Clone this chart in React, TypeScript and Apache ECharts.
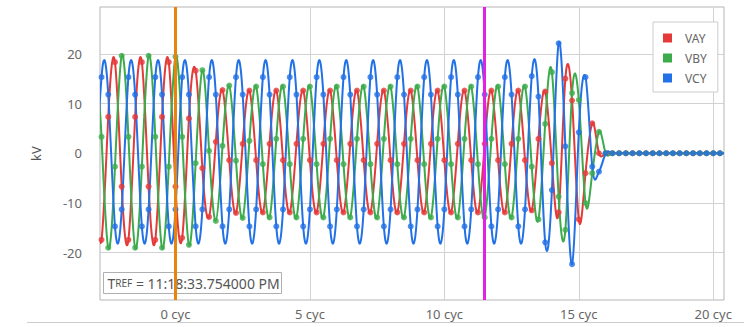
import React, { useEffect, useRef } from "react";
import * as echarts from "echarts";

// Sampling grid: 4 samples per cycle, first sample at -3 cyc
const T_START = -3.0;
const T_STEP = 0.25;

// kV samples (t = -3.0, -2.75, ... 20.5 cyc)
const VAY = [
  -6.7, -17.4, 7.3, 18.3, -6.7, -17.4, 7.3, 18.3, -6.7, -17.4, 7.3, 18.3, -6.7,
  -17.0, 7.0, 16.6, -3.0, -12.8, 2.3, 12.7, -1.4, -12.0, 1.9, 12.6, -1.4,
  -11.9, 1.9, 12.6, -1.4, -11.9, 1.9, 12.6, -1.4, -11.9, 1.9, 12.6, -1.4, -11.9, 1.9, 12.6, -1.4,
  -11.9, 1.9, 12.6, -1.4, -11.9, 1.9, 12.6, -1.4, -11.9, 1.9, 12.6, -1.4, -11.9, 1.9, 12.6, -1.4,
  -11.9, 1.9, 12.6, -1.4, -11.9, 1.9, 12.6, -1.4,
  -11.5, 2.9, 12.4, -2.0, -11.9, 15.0, 10.6, -13.3, -4.0, 6.0, 0.0,
  0, 0, 0, 0, 0, 0, 0, 0, 0, 0, 0, 0, 0, 0, 0, 0, 0, 0, 0,
];

const VBY = [
  19.6, 3.3, -19.0, -2.7, 19.6, 3.3, -19.0, -2.7, 19.6, 3.3, -19.0, -2.7, 19.4,
  3.3, -18.4, -2.0, 16.7, 0.5, -13.6, 1.5, 13.6, -1.5, -13.0, 2.5, 13.4,
  -2.2, -12.9, 2.9, 13.4, -2.2, -12.9, 2.9, 13.4, -2.2, -12.9, 2.9, 13.4, -2.2, -12.9, 2.9, 13.4,
  -2.2, -12.9, 2.9, 13.4, -2.2, -12.9, 2.9, 13.4, -2.2, -12.9, 2.9, 13.4, -2.2, -12.9, 2.9, 13.4,
  -2.2, -12.9, 2.9, 13.4, -2.2, -12.9, 2.9, 13.4,
  -2.7, -13.3, 5.9, 16.3, -8.7, -15.4, 12.1, 10.7, -10.0, -4.0, 4.3,
  0, 0, 0, 0, 0, 0, 0, 0, 0, 0, 0, 0, 0, 0, 0, 0, 0, 0, 0,
];

const VCY = [
  -11.3,
  15.3, 11.8, -14.7, -11.3, 15.3, 11.8, -14.7, -11.3, 15.3, 11.8, -14.7, -11.3,
  15.3, 11.8, -14.7, -11.3, 15.3, 11.8, -14.7, -11.3, 15.3, 11.8, -14.7, -11.3,
  15.3, 11.8, -14.7, -11.3, 15.3, 11.8, -14.7, -11.3, 15.3, 11.8, -14.7, -11.3,
  15.3, 11.8, -14.7, -11.3, 15.3, 11.8, -14.7, -11.3, 15.3, 11.8, -14.7, -11.3,
  15.3, 11.8, -14.7, -11.3, 15.3, 11.8, -14.7, -11.3, 15.3, 11.8, -14.7, -11.3,
  15.3, 11.8, -14.7, -11.3,
  15.5, 11.4, -17.9, -7.4, 22.1, 1.4, -22.3, 4.2, 15.3, -2.7, -3.7,
  0, 0, 0, 0, 0, 0, 0, 0, 0, 0, 0, 0, 0, 0, 0, 0, 0, 0, 0,
];

const SERIES_NAMES = ["VAY", "VBY", "VCY"];
const SERIES_COLORS = ["#e53a3a", "#3cab4c", "#2271e6"];
const X_TICKS = [0, 5, 10, 15, 20];
const Y_TICKS = [-20, -10, 0, 10, 20];
const X_MIN = -2.807;
const X_MAX = 20.4;
const Y_MIN = -29.5;
const Y_MAX = 29.4;
const CURSOR_A = 0;
const CURSOR_B = 11.5;
const TREF_TIME = "11:18:33.754000 PM";

const FONT = "'Noto Sans', 'Open Sans', sans-serif";

function toPoints(values: number[]) {
  return values.map((v, i) => [T_START + i * T_STEP, v]);
}

function makeRenderer(values: number[], color: string) {
  const KX = 1 / 6;
  const KY = 1.5 / 6;
  return (params: any, api: any) => {
    const i = params.dataIndex;
    const n = values.length;
    if (i >= n - 1) return null;
    const pt = (k: number) => {
      const kk = Math.max(0, Math.min(n - 1, k));
      return api.coord([T_START + kk * T_STEP, values[kk]]);
    };
    const p0 = pt(i - 1);
    const p1 = pt(i);
    const p2 = pt(i + 1);
    const p3 = pt(i + 2);
    return {
      type: "bezierCurve",
      shape: {
        x1: p1[0],
        y1: p1[1],
        x2: p2[0],
        y2: p2[1],
        cpx1: p1[0] + (p2[0] - p0[0]) * KX,
        cpy1: p1[1] + (p2[1] - p0[1]) * KY,
        cpx2: p2[0] - (p3[0] - p1[0]) * KX,
        cpy2: p2[1] - (p3[1] - p1[1]) * KY,
      },
      style: { stroke: color, lineWidth: 2, fill: "none" },
      silent: true,
    };
  };
}

export default function App() {
  const ref = useRef<HTMLDivElement>(null);

  useEffect(() => {
    if (!ref.current) return;
    const chart = echarts.init(ref.current, null, { renderer: "svg" });
    const allValues = [VAY, VBY, VCY];
    const series: any[] = [];
    allValues.forEach((vals, idx) => {
      const color = SERIES_COLORS[idx];
      const pts = toPoints(vals);
      series.push({
        type: "custom",
        name: SERIES_NAMES[idx],
        data: pts,
        encode: { x: 0, y: 1 },
        renderItem: makeRenderer(vals, color),
        itemStyle: { color },
        clip: true,
        silent: true,
      });
      const sc: any = {
        type: "scatter",
        name: SERIES_NAMES[idx],
        data: pts,
        symbol: "circle",
        symbolSize: 6,
        itemStyle: { color },
        clip: true,
        silent: true,
      };
      if (idx === 2) {
        sc.markLine = {
          silent: true,
          symbol: ["none", "none"],
          label: { show: false },
          animation: false,
          data: [
            { xAxis: CURSOR_A, lineStyle: { color: "#e8840e", width: 3, type: "solid" } },
            { xAxis: CURSOR_B, lineStyle: { color: "#e321e0", width: 3, type: "solid" } },
          ],
        };
      }
      series.push(sc);
    });

    chart.setOption({
      animation: false,
      backgroundColor: "#ffffff",
      textStyle: { fontFamily: FONT },
      grid: {
        left: 100,
        right: 20,
        top: 7,
        bottom: 27,
        show: true,
        borderColor: "#b5b5b5",
        borderWidth: 1,
      },
      legend: {
        data: SERIES_NAMES,
        orient: "vertical",
        left: 653,
        top: 22,
        icon: "rect",
        itemWidth: 9,
        itemHeight: 9,
        itemGap: 8,
        padding: [10, 11, 8, 10],
        backgroundColor: "#ffffff",
        borderColor: "#cccccc",
        borderWidth: 1,
        textStyle: { color: "#666", fontSize: 12, fontFamily: FONT, padding: [0, 0, 0, 8] },
        selectedMode: false,
      },
      xAxis: {
        type: "value",
        min: X_MIN,
        max: X_MAX,
        axisLine: { show: false },
        axisTick: { show: false, customValues: X_TICKS },
        splitLine: { show: true, lineStyle: { color: "#d2d2d2", width: 1 } },
        axisLabel: {
          customValues: X_TICKS,
          formatter: (v: number) => `${v} cyc`,
          color: "#666",
          fontSize: 13,
          margin: 7,
          fontFamily: FONT,
        },
      },
      yAxis: {
        type: "value",
        min: Y_MIN,
        max: Y_MAX,
        name: "kV",
        nameLocation: "middle",
        nameGap: 58,
        nameTextStyle: { color: "#555", fontSize: 13, fontFamily: FONT },
        axisLine: { show: false },
        axisTick: { show: false, customValues: Y_TICKS },
        splitLine: { show: true, lineStyle: { color: "#d2d2d2", width: 1 } },
        axisLabel: {
          customValues: Y_TICKS,
          color: "#666",
          fontSize: 13,
          margin: 18,
          fontFamily: FONT,
        },
      },
      graphic: [
        {
          type: "rect",
          z: 1,
          shape: { x: 103.5, y: 272.5, width: 178, height: 21 },
          style: { fill: "#ffffff", stroke: "#b0b0b0", lineWidth: 1 },
          silent: true,
        },
        {
          type: "text",
          z: 1,
          x: 107.5,
          y: 283,
          style: {
            text: `{a|T}{b|REF}{a| = ${TREF_TIME}}`,
            verticalAlign: "middle",
            rich: {
              a: { fontSize: 14, fill: "#555", fontFamily: FONT },
              b: { fontSize: 10, fill: "#555", fontFamily: FONT },
            },
          },
          silent: true,
        },
        {
          type: "line",
          z: 1,
          shape: { x1: 27, y1: 322.5, x2: 744, y2: 322.5 },
          style: { stroke: "#cccccc", lineWidth: 1 },
          silent: true,
        },
      ],
      series,
    });

    return () => chart.dispose();
  }, []);

  return (
    <div
      ref={ref}
      style={{ position: "fixed", left: 0, top: 0, width: 744, height: 327, background: "#fff" }}
    />
  );
}
